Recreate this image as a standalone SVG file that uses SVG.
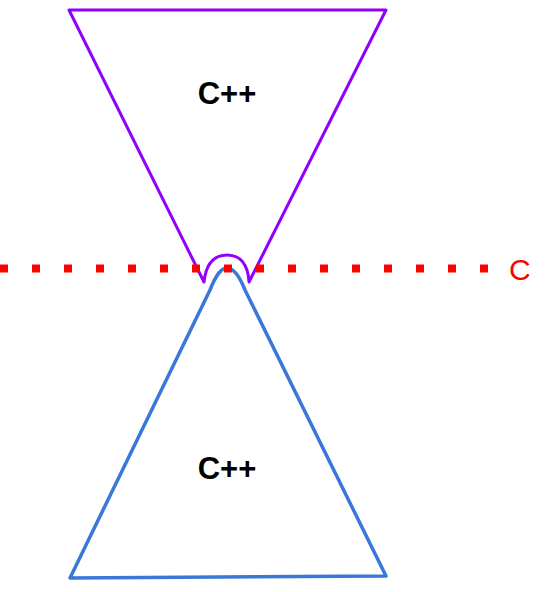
<svg xmlns="http://www.w3.org/2000/svg" width="558" height="592" viewBox="0 0 558 592">
<style>
.lbl{font-family:"Liberation Sans",Arial,sans-serif;font-weight:bold;font-size:31px;fill:#000;text-anchor:middle}
</style>
<rect width="558" height="592" fill="#fff"/>
<g id="top-cpp">
<path d="M69,10 L386,10 L249,282 C248,264 240,255 227,255 C214,255 206,264 204,282 Z" fill="none" stroke="#8f00ff" stroke-width="3" stroke-linejoin="round"/>
<text class="lbl" x="227" y="104">C++</text>
</g>
<g id="bottom-cpp">
<path d="M70,578 L210,290 C216,275 221,268 227,268 C233,268 239,275 245,290 L386,576 Z" fill="none" stroke="#3a78d8" stroke-width="3.5" stroke-linejoin="round"/>
<text class="lbl" x="227" y="479">C++</text>
</g>
<g id="connectors">
<line x1="0" y1="268.5" x2="490" y2="268.5" stroke="#ff0000" stroke-width="8" stroke-dasharray="8 24"/>
</g>
<g id="c-label">
<text x="509" y="280" font-family="Liberation Sans,Arial,sans-serif" font-size="30" fill="#ff0000">C</text>
</g>
</svg>
